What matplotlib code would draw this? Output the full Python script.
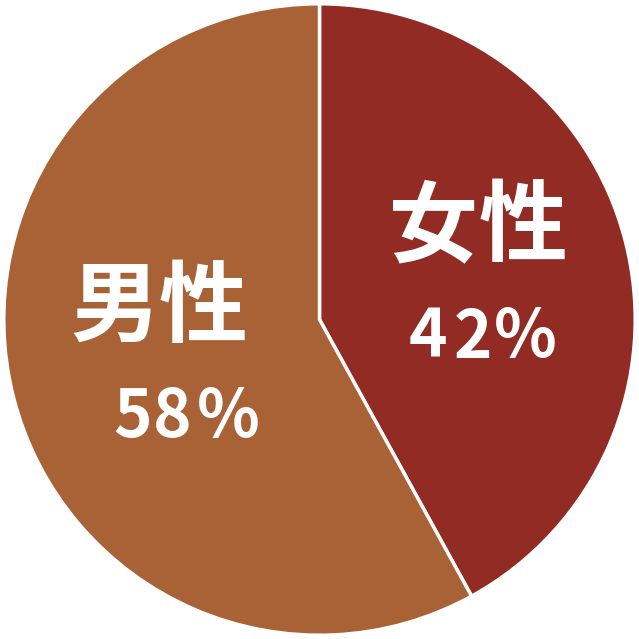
import matplotlib.pyplot as plt

plt.rcParams['font.family'] = ['Noto Sans CJK JP', 'DejaVu Sans']

labels = ['女性', '男性']
values = [42, 58]
colors = ['#922B24', '#A86236']

fig = plt.figure(figsize=(6.39, 6.39), dpi=100)
ax = fig.add_axes([0, 0, 1, 1])
ax.pie(values, colors=colors, startangle=90, counterclock=False,
       wedgeprops=dict(edgecolor='white', linewidth=2.5))
ax.set_xlim(-1.012, 1.012)
ax.set_ylim(-1.012, 1.012)
ax.set_aspect('equal')
ax.axis('off')


def spaced(text, xs, y, **kw):
    # 一文字ずつ置いて字間を広げる (pixel coords)
    for ch, x in zip(text, xs):
        fig.text(x / 639, 1 - y / 639, ch, color='white', ha='center', va='center', **kw)


# 文字の中心位置 (px)
name_x = [[433, 523], [115, 203]]
name_y = [228, 309]
pct_x = [[428, 473, 525], [133, 172, 228]]
pct_y = [338, 417]

for i in range(len(labels)):
    spaced(labels[i], name_x[i], name_y[i], fontsize=64, fontweight='bold')
    spaced('%d%%' % values[i], pct_x[i], pct_y[i], fontsize=47, fontweight='bold')

plt.savefig('out.png', dpi=100)
